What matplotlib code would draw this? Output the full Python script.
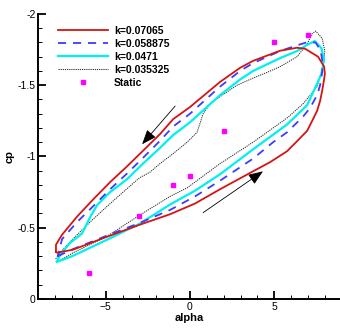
import matplotlib
matplotlib.use("Agg")
import matplotlib.pyplot as plt

plt.rcParams["font.family"] = ["Liberation Sans", "DejaVu Sans"]

# Pressure coefficient hysteresis loops: lower branch = pitch-up, upper branch = pitch-down
alpha_k07065 = [-7.95, -7.9, -6.94, -4.92, -2.96, -1.18, 0.3, 1.78, 3.74, 4.75, 5.76, 6.35, 6.95, 7.24,
                7.54, 7.72, 7.84, 7.96, 8.0, 7.96, 7.6, 6.83, 6.35, 5.34, 3.74, 2.97, 1.78, 0.0, -1.0,
                -1.78, -2.79, -3.74, -4.74, -5.75, -6.7, -7.59, -7.95, -7.95]
cp_k07065 = [-0.33, -0.325, -0.346, -0.437, -0.522, -0.595, -0.67, -0.77, -0.896, -0.96, -1.037, -1.107,
             -1.18, -1.248, -1.32, -1.39, -1.46, -1.544, -1.58, -1.63, -1.70, -1.756, -1.763, -1.742,
             -1.671, -1.622, -1.523, -1.347, -1.262, -1.157, -1.04, -0.93, -0.82, -0.698, -0.578, -0.451,
             -0.381, -0.33]

alpha_k058875 = [-7.85, -6.94, -4.92, -2.96, -1.18, 0.3, 1.78, 3.74, 4.93, 5.76, 6.71, 7.12, 7.54, 7.72,
                 7.85, 7.84, 7.75, 7.45, 6.9, 6.35, 5.34, 3.74, 2.97, 1.78, 0.0, -1.0, -1.78, -2.79,
                 -3.74, -4.74, -5.75, -6.7, -7.59, -7.85]
cp_k058875 = [-0.30, -0.35, -0.445, -0.535, -0.625, -0.72, -0.83, -0.985, -1.10, -1.17, -1.28, -1.34,
              -1.43, -1.50, -1.60, -1.68, -1.745, -1.80, -1.80, -1.78, -1.74, -1.655, -1.60, -1.49, -1.30,
              -1.21, -1.11, -0.99, -0.88, -0.77, -0.65, -0.54, -0.42, -0.30]

alpha_k0471 = [-7.89, -6.94, -4.92, -2.96, -1.18, 0.3, 1.78, 3.74, 5.76, 6.95, 7.42, 7.8, 7.95, 7.8, 7.4,
               6.9, 6.35, 5.34, 3.74, 2.97, 1.78, 0.0, -1.0, -1.78, -2.79, -3.74, -4.74, -5.5, -5.9,
               -6.4, -7.1, -7.71, -7.89]
cp_k0471 = [-0.261, -0.303, -0.416, -0.53, -0.663, -0.76, -0.875, -1.05, -1.225, -1.36, -1.48, -1.58, -1.68,
            -1.76, -1.81, -1.78, -1.74, -1.69, -1.60, -1.54, -1.43, -1.24, -1.15, -1.06, -0.95, -0.84,
            -0.75, -0.66, -0.58, -0.46, -0.395, -0.31, -0.261]

alpha_k035325 = [-7.89, -6.94, -4.92, -2.96, -1.18, -0.17, 1.78, 3.74, 5.76, 6.71, 7.54, 7.9, 8.0, 7.84,
                 7.45, 7.24, 6.95, 6.35, 5.34, 4.57, 3.74, 2.79, 1.78, 1.19, 0.78, 0.42, -0.17, -1.0,
                 -1.78, -2.37, -3.0, -3.97, -4.92, -5.75, -6.7, -7.2, -7.71, -8.0]
cp_k035325 = [-0.26, -0.324, -0.44, -0.59, -0.72, -0.78, -0.95, -1.10, -1.27, -1.37, -1.49, -1.63, -1.74,
              -1.83, -1.88, -1.86, -1.79, -1.70, -1.63, -1.59, -1.55, -1.50, -1.42, -1.37, -1.30, -1.17,
              -1.10, -1.02, -0.95, -0.89, -0.85, -0.75, -0.65, -0.56, -0.45, -0.39, -0.324, -0.275]

alpha_static = [-6, -3, -1, 0, 2, 5, 7]
cp_static = [-0.18, -0.58, -0.80, -0.86, -1.18, -1.80, -1.85]

labels = ["k=0.07065", "k=0.058875", "k=0.0471", "k=0.035325", "Static"]

fig = plt.figure(figsize=(3.40, 3.29), dpi=100)
ax = fig.add_axes([0.1126, 0.0912, 0.8874, 0.8663])

ax.plot(alpha_k07065, cp_k07065, color="#d41414", lw=1.3, label=labels[0], zorder=4)
ax.plot(alpha_k058875, cp_k058875, color="#3c3cff", lw=1.3, dashes=(4.5, 3.8), label=labels[1], zorder=3)
ax.plot(alpha_k0471, cp_k0471, color="#00f0f0", lw=1.6, label=labels[2], zorder=2)
ax.plot(alpha_k035325, cp_k035325, color="#222222", lw=0.7, dashes=(1.2, 1.0), label=labels[3], zorder=1)
ax.plot(alpha_static, cp_static, ls="none", marker="s", ms=3.0, mfc="#ff00ff", mec="#ff00ff",
        label=labels[4], zorder=5)

# direction-of-motion arrows
arrow_style = dict(arrowstyle="-|>,head_length=0.9,head_width=0.35", color="#555555", lw=0.6,
                   shrinkA=0, shrinkB=0)
ax.annotate("", xy=(-2.84, -1.086), xytext=(-0.88, -1.354), arrowprops=dict(arrow_style, fc="black", ec="black"))
ax.annotate("", xy=(4.33, -0.896), xytext=(0.78, -0.606), arrowprops=dict(arrow_style, fc="black", ec="black"))

ax.set_xlim(-9, 8.9)
ax.set_ylim(0, -2)
for s in ("top", "right"):
    ax.spines[s].set_visible(False)
for s in ("left", "bottom"):
    ax.spines[s].set_linewidth(1.4)

ax.set_xticks([-5, 0, 5])
ax.set_xticks(range(-8, 9), minor=True)
ax.set_yticks([0, -0.5, -1, -1.5, -2])
ax.set_yticklabels(["0", "-0.5", "-1", "-1.5", "-2"])
ax.set_yticks([-0.1 * i for i in range(21)], minor=True)
ax.tick_params(which="major", direction="in", length=6, width=1.3, labelsize=7.5, pad=2)
ax.tick_params(which="minor", direction="in", length=3, width=0.7)

ax.set_xlabel("alpha", fontsize=8, fontweight="bold", labelpad=1)
ax.set_ylabel("cp", fontsize=8, fontweight="bold", labelpad=2)

ax.legend(loc="upper left", bbox_to_anchor=(0.04, 0.985), frameon=False,
          handlelength=4.8, handletextpad=0.6, labelspacing=0.3, borderpad=0.2,
          prop={"weight": "bold", "size": 7.5}, numpoints=1)

fig.savefig("out.png", dpi=100)
